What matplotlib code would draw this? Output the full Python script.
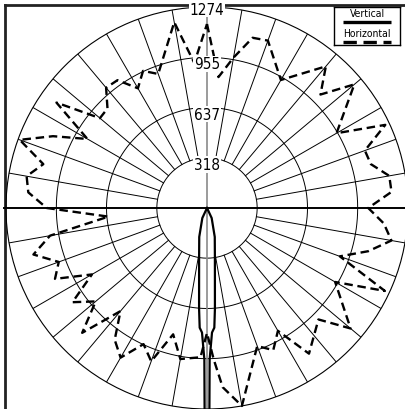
import numpy as np
import matplotlib
matplotlib.use("Agg")
import matplotlib.pyplot as plt
from matplotlib import font_manager

# ---------------- data ----------------
ring_values = [318, 637, 955, 1274]
ring_labels = ["318", "637", "955", "1274"]

# Horizontal plane (dashed), angle clockwise from top (deg), candela
h_angles = [0, 5, 10, 15, 20, 30, 40, 45, 50, 60, 65, 70, 75, 80, 85, 90, 95,
            100, 105, 110, 115, 120, 130, 135, 145, 150, 155, 160, 170, 175,
            177.5, 180, 182.5, 190, 195, 200, 205, 210, 215, 220, 225, 230,
            235, 240, 245, 250, 255, 260, 265, 270, 275, 280, 285, 290, 295,
            300, 305, 310, 315, 320, 325, 330, 335, 340, 350, 355]
h_cd = [1166, 833, 968, 1117, 1129, 937, 1172, 1017, 1219, 948, 1247, 1065,
        1075, 1173, 1174, 1022, 1125, 1187, 1058, 896, 1244, 938, 1188, 999,
        1127, 899, 994, 931, 1274, 1140, 958, 792, 947, 972, 829, 1034, 952,
        1095, 1020, 853, 1119, 921, 1041, 842, 1063, 1000, 1139, 1010, 627,
        1016, 1137, 1161, 1074, 1263, 1077, 875, 1165, 886, 892, 995, 989,
        876, 959, 904, 1196, 923]

# Vertical plane (solid), narrow beam pointing down
v_angles = [135, 155, 165, 171, 175.5, 176.5, 177.7, 179, 179.4, 180,
            180.6, 181, 182.3, 183.5, 184.5, 189, 195, 205, 225]
v_cd = [0, 70, 190, 320, 640, 760, 790, 960, 1400, 1600,
        1400, 960, 790, 760, 640, 320, 190, 70, 0]

legend_labels = ["Vertical", "Horizontal"]

# ---------------- fonts ----------------
names = {f.name for f in font_manager.fontManager.ttflist}
if "Liberation Sans Narrow" in names:
    FONT = dict(family="Liberation Sans Narrow")
else:
    FONT = dict(family="DejaVu Sans", stretch="condensed")

# ---------------- figure ----------------
W, H = 405, 410
fig = plt.figure(figsize=(W / 100, H / 100), dpi=100)
fig.patch.set_facecolor("white")

# frame (left + top border)
bg = fig.add_axes([4.5 / W, -0.2, 1.5, 1.2 - 5.5 / H], zorder=0)
bg.set_xticks([]); bg.set_yticks([])
for s in ["right", "bottom"]:
    bg.spines[s].set_visible(False)
for s in ["left", "top"]:
    bg.spines[s].set_linewidth(2.0)
    bg.spines[s].set_color("#222222")
bg.patch.set_alpha(0)

# polar axes: centre (207, 209) px, radius 201 px
cx, cy, R = 207, 209, 201
ax = fig.add_axes([(cx - R) / W, (H - cy - R) / H, 2 * R / W, 2 * R / H],
                  projection="polar", zorder=1)
ax.set_facecolor("none")
ax.set_theta_zero_location("N")
ax.set_theta_direction(-1)
ax.set_ylim(0, ring_values[-1])
ax.set_xticks([])
ax.set_yticks(ring_values)
ax.set_yticklabels([])
ax.grid(False)
ax.spines["polar"].set_linewidth(0.8)
ax.spines["polar"].set_color("black")

th = np.linspace(0, 2 * np.pi, 721)
for rv in ring_values[:-1]:
    ax.plot(th, np.full_like(th, rv), color="black", lw=0.7, zorder=2)

for a in range(10, 360, 10):
    if a % 90 == 0:
        continue
    ax.plot([np.radians(a)] * 2, [ring_values[0], ring_values[-1]],
            color="black", lw=0.7, zorder=2)

# axes lines
ax.plot([0, 0], [0, ring_values[-1]], color="#8a8a8a", lw=1.2, zorder=2)
ax.plot([np.pi, np.pi], [0, ring_values[-1]], color="#8a8a8a", lw=1.2, zorder=2)
ax.plot([np.pi / 2] * 2, [0, 1400], color="black", lw=1.4, zorder=2, clip_on=False)
ax.plot([3 * np.pi / 2] * 2, [0, 1286], color="black", lw=1.4, zorder=2, clip_on=False)

# curves
ha = np.radians(h_angles + [h_angles[0]])
hv = h_cd + [h_cd[0]]
ax.plot(ha, hv, color="black", lw=1.7, linestyle=(0, (3.6, 2.0)), zorder=4,
        clip_on=False)
ax.plot(np.radians(v_angles), v_cd, color="black", lw=1.6, zorder=4)

# ring labels
for rv, lab in zip(ring_values, ring_labels):
    rr = rv - 42 if rv != ring_values[-1] else rv - 14
    ax.text(0, rr, lab, ha="center", va="center", fontsize=11, zorder=6,
            bbox=dict(fc="white", ec="none", pad=0.6), **FONT)

# legend box
lg = fig.add_axes([334 / W, 1 - 46 / H, 66 / W, 38 / H], zorder=7)
lg.set_xlim(0, 1); lg.set_ylim(0, 1)
lg.set_xticks([]); lg.set_yticks([])
for s in lg.spines.values():
    s.set_linewidth(1.0)
lg.text(0.5, 0.84, legend_labels[0], ha="center", va="center", fontsize=7.5, **FONT)
lg.plot([0.13, 0.87], [0.6, 0.6], color="black", lw=2.4, solid_capstyle="butt")
lg.text(0.5, 0.32, legend_labels[1], ha="center", va="center", fontsize=7.5, **FONT)
lg.plot([0.13, 0.87], [0.09, 0.09], color="black", lw=2.4,
        linestyle=(0, (4, 2)), dash_capstyle="butt")

fig.savefig("out.png", dpi=100)
